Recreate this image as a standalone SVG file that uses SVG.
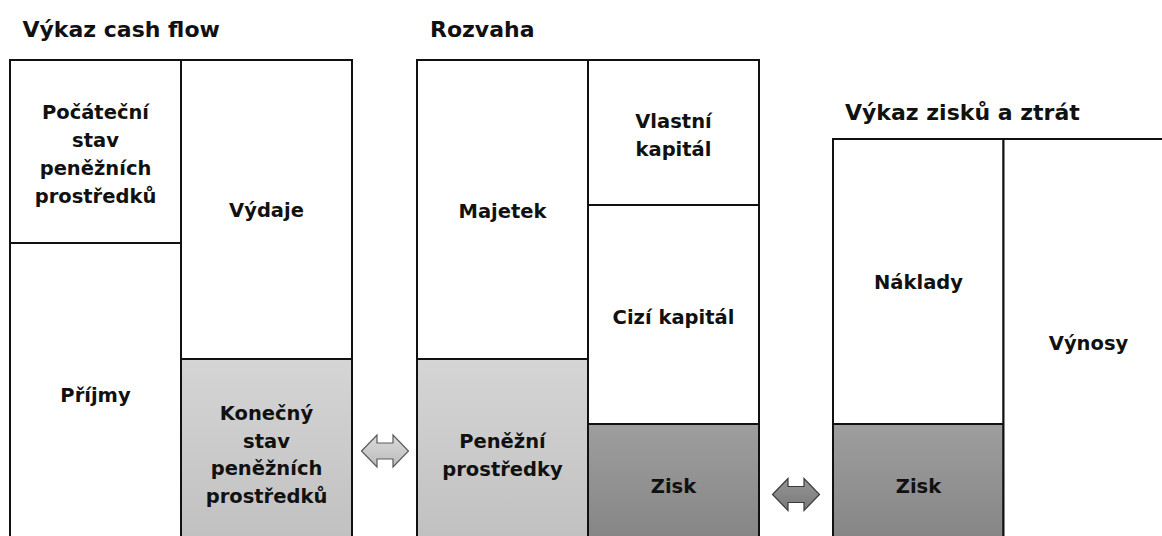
<svg xmlns="http://www.w3.org/2000/svg" xmlns:xlink="http://www.w3.org/1999/xlink" width="1162" height="536" viewBox="0 0 1162 536">
  <style>
    .title { font-family: "DejaVu Sans", "Liberation Sans", sans-serif; font-weight: bold; font-size: 22px; fill: #111; }
    .lbl { font-family: "DejaVu Sans", "Liberation Sans", sans-serif; font-weight: bold; font-size: 19.5px; fill: #111; text-anchor: middle; }
    .box { stroke: #111; stroke-width: 2; }
    .white { fill: #ffffff; }
    .light { fill: url(#gLight); }
    .dark { fill: url(#gDark); }
    .arrow-light { fill: url(#gArrowLight); stroke: #5a5a5a; stroke-width: 1.2; }
    .arrow-dark { fill: url(#gArrowDark); stroke: #3a3a3a; stroke-width: 1.2; }
  </style>
  <defs>
    <linearGradient id="gLight" x1="0" y1="0" x2="0" y2="1">
      <stop offset="0" stop-color="#d5d5d5"/>
      <stop offset="1" stop-color="#c0c0c0"/>
    </linearGradient>
    <linearGradient id="gDark" x1="0" y1="0" x2="0" y2="1">
      <stop offset="0" stop-color="#9e9e9e"/>
      <stop offset="1" stop-color="#848484"/>
    </linearGradient>
    <linearGradient id="gArrowLight" x1="0" y1="0" x2="0" y2="1">
      <stop offset="0" stop-color="#dadada"/>
      <stop offset="1" stop-color="#bcbcbc"/>
    </linearGradient>
    <linearGradient id="gArrowDark" x1="0" y1="0" x2="0" y2="1">
      <stop offset="0" stop-color="#959595"/>
      <stop offset="1" stop-color="#7a7a7a"/>
    </linearGradient>
    <!-- double-headed block arrow, centred on the origin -->
    <path id="dblArrow" d="M-23.5,0 L-8,-16 L-8,-8 L8,-8 L8,-16 L23.5,0 L8,16 L8,8 L-8,8 L-8,16 Z"/>
  </defs>

  <rect width="1162" height="536" fill="#ffffff"/>

  <!-- statement headings -->
  <text class="title" x="22.5" y="37">Výkaz cash flow</text>
  <text class="title" x="430" y="37">Rozvaha</text>
  <text class="title" x="845" y="120">Výkaz zisků a ztrát</text>

  <!-- cash flow statement -->
  <g id="cf-opening">
    <rect class="box white" x="10" y="60" width="171" height="183"/>
    <text class="lbl" x="95.5" y="119.3">Počáteční</text>
    <text class="lbl" x="95.5" y="147">stav</text>
    <text class="lbl" x="95.5" y="174.8">peněžních</text>
    <text class="lbl" x="95.5" y="202.5">prostředků</text>
  </g>
  <g id="cf-income">
    <rect class="box white" x="10" y="243" width="171" height="303"/>
    <text class="lbl" x="95.5" y="401.5">Příjmy</text>
  </g>
  <g id="cf-expenses">
    <rect class="box white" x="181" y="60" width="171" height="299"/>
    <text class="lbl" x="266.5" y="217">Výdaje</text>
  </g>
  <g id="cf-closing">
    <rect class="box light" x="181" y="359" width="171" height="187"/>
    <text class="lbl" x="266.5" y="420">Konečný</text>
    <text class="lbl" x="266.5" y="447.5">stav</text>
    <text class="lbl" x="266.5" y="475">peněžních</text>
    <text class="lbl" x="266.5" y="502.5">prostředků</text>
  </g>

  <!-- balance sheet -->
  <g id="bs-assets">
    <rect class="box white" x="417" y="60" width="171" height="299"/>
    <text class="lbl" x="502.5" y="217.5">Majetek</text>
  </g>
  <g id="bs-cash">
    <rect class="box light" x="417" y="359" width="171" height="187"/>
    <text class="lbl" x="502.5" y="448.3">Peněžní</text>
    <text class="lbl" x="502.5" y="475.8">prostředky</text>
  </g>
  <g id="bs-equity">
    <rect class="box white" x="588" y="60" width="171" height="145"/>
    <text class="lbl" x="673.5" y="128">Vlastní</text>
    <text class="lbl" x="673.5" y="155.5">kapitál</text>
  </g>
  <g id="bs-liabilities">
    <rect class="box white" x="588" y="205" width="171" height="219"/>
    <text class="lbl" x="673.5" y="324">Cizí kapitál</text>
  </g>
  <g id="bs-profit">
    <rect class="box dark" x="588" y="424" width="171" height="122"/>
    <text class="lbl" x="673.5" y="493">Zisk</text>
  </g>

  <!-- income statement -->
  <g id="pl-costs">
    <rect class="box white" x="833" y="139" width="170.5" height="285"/>
    <text class="lbl" x="918.5" y="289">Náklady</text>
  </g>
  <g id="pl-profit">
    <rect class="box dark" x="833" y="424" width="170.5" height="122"/>
    <text class="lbl" x="918.5" y="493">Zisk</text>
  </g>
  <g id="pl-revenue">
    <rect class="box white" x="1003.5" y="139" width="171" height="407"/>
    <text class="lbl" x="1088.5" y="350">Výnosy</text>
  </g>

  <!-- links between the statements -->
  <g id="connectors">
    <use xlink:href="#dblArrow" class="arrow-light" transform="translate(385 451)"/>
    <use xlink:href="#dblArrow" class="arrow-dark" transform="translate(796 494.5)"/>
  </g>
</svg>
